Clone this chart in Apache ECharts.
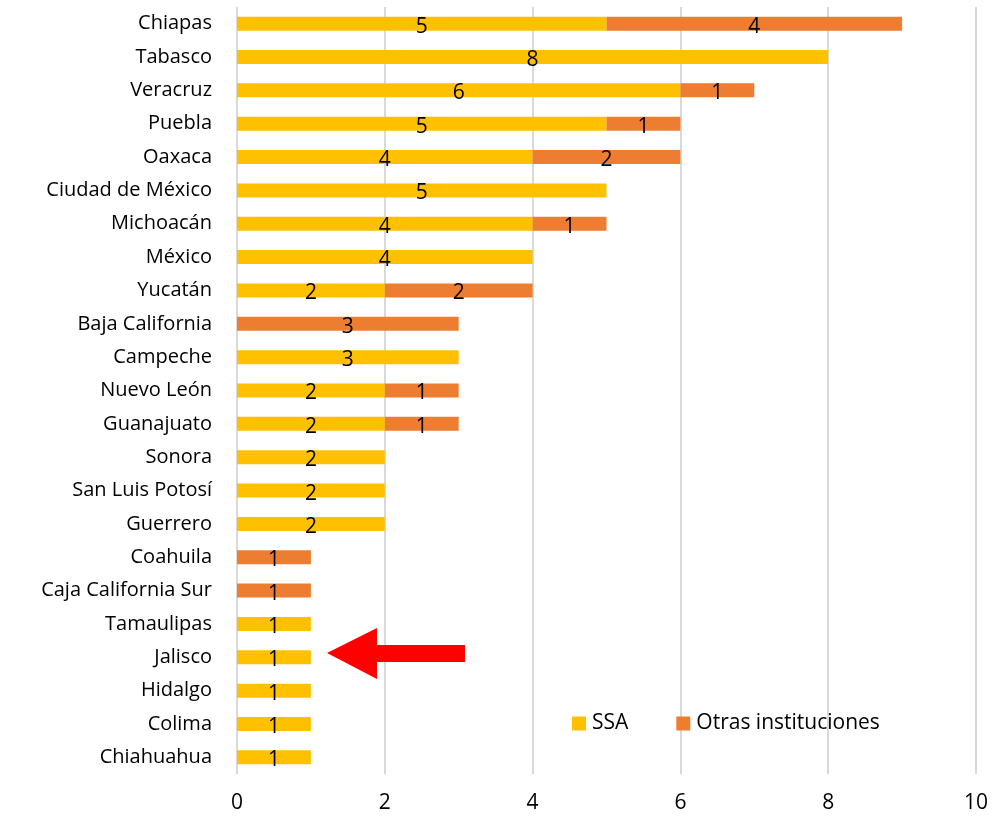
<!DOCTYPE html>
<html>
<head>
<meta charset="utf-8">
<script src="https://cdn.jsdelivr.net/npm/echarts@6/dist/echarts.min.js"></script>
<style>
	html, body { margin: 0; padding: 0; background: #fff; }
	#chart { width: 1004px; height: 821px; }
</style>
</head>
<body>
<div id="chart"></div>
<script>
	var estados = ['Chiapas', 'Tabasco', 'Veracruz', 'Puebla', 'Oaxaca', 'Ciudad de México', 'Michoacán', 'México',
		'Yucatán', 'Baja California', 'Campeche', 'Nuevo León', 'Guanajuato', 'Sonora', 'San Luis Potosí', 'Guerrero',
		'Coahuila', 'Caja California Sur', 'Tamaulipas', 'Jalisco', 'Hidalgo', 'Colima', 'Chiahuahua'];
	var ssa = [5, 8, 6, 5, 4, 5, 4, 4, 2, null, 3, 2, 2, 2, 2, 2, null, null, 1, 1, 1, 1, 1];
	var otras = [4, null, 1, 1, 2, null, 1, null, 2, 3, null, 1, 1, null, null, null, 1, 1, null, null, null, null, null];
	var xTicks = [0, 2, 4, 6, 8, 10];

	var fontFam = 'Open Sans, Liberation Sans, sans-serif';
	var barLabel = {
		show: true,
		position: 'inside',
		offset: [0, 3],
		color: '#000',
		fontSize: 21,
		fontFamily: fontFam,
		formatter: function (p) { return p.value ? p.value : ''; }
	};

	var option = {
		backgroundColor: '#fff',
		animation: false,
		grid: {
			left: 237,
			right: 28,
			top: 7,
			bottom: 47,
			containLabel: false
		},
		legend: {
			left: 567,
			top: 708,
			itemWidth: 14,
			itemHeight: 14,
			itemGap: 48,
			icon: 'rect',
			textStyle: {
				color: '#000',
				fontSize: 21,
				fontFamily: fontFam,
				padding: [0, 0, 0, 1]
			},
			data: ['SSA', 'Otras instituciones']
		},
		xAxis: {
			type: 'value',
			min: xTicks[0],
			max: xTicks[xTicks.length - 1],
			interval: 2,
			axisLine: { show: false },
			axisTick: { show: false },
			axisLabel: {
				color: '#000',
				fontSize: 21,
				fontFamily: fontFam,
				margin: 19
			},
			splitLine: {
				show: true,
				lineStyle: { color: '#d9d9d9', width: 2 }
			}
		},
		yAxis: {
			type: 'category',
			inverse: true,
			data: estados,
			axisLine: { show: false },
			axisTick: { show: false },
			axisLabel: {
				color: '#000',
				fontSize: 20,
				fontFamily: fontFam,
				margin: 25
			}
		},
		series: [{
			name: 'SSA',
			type: 'bar',
			stack: 'total',
			barWidth: 14,
			itemStyle: { color: '#ffc000' },
			label: barLabel,
			data: ssa
		}, {
			name: 'Otras instituciones',
			type: 'bar',
			stack: 'total',
			barWidth: 14,
			itemStyle: { color: '#ed7d31' },
			label: barLabel,
			data: otras
		}],
		graphic: [{
			type: 'polygon',
			z: 100,
			shape: {
				points: [[327, 653], [377, 628], [377, 645], [465, 645], [465, 662], [377, 662], [377, 679]]
			},
			style: { fill: '#ff0000' }
		}]
	};

	var myChart = echarts.init(document.getElementById('chart'));
	myChart.setOption(option);
</script>
</body>
</html>
